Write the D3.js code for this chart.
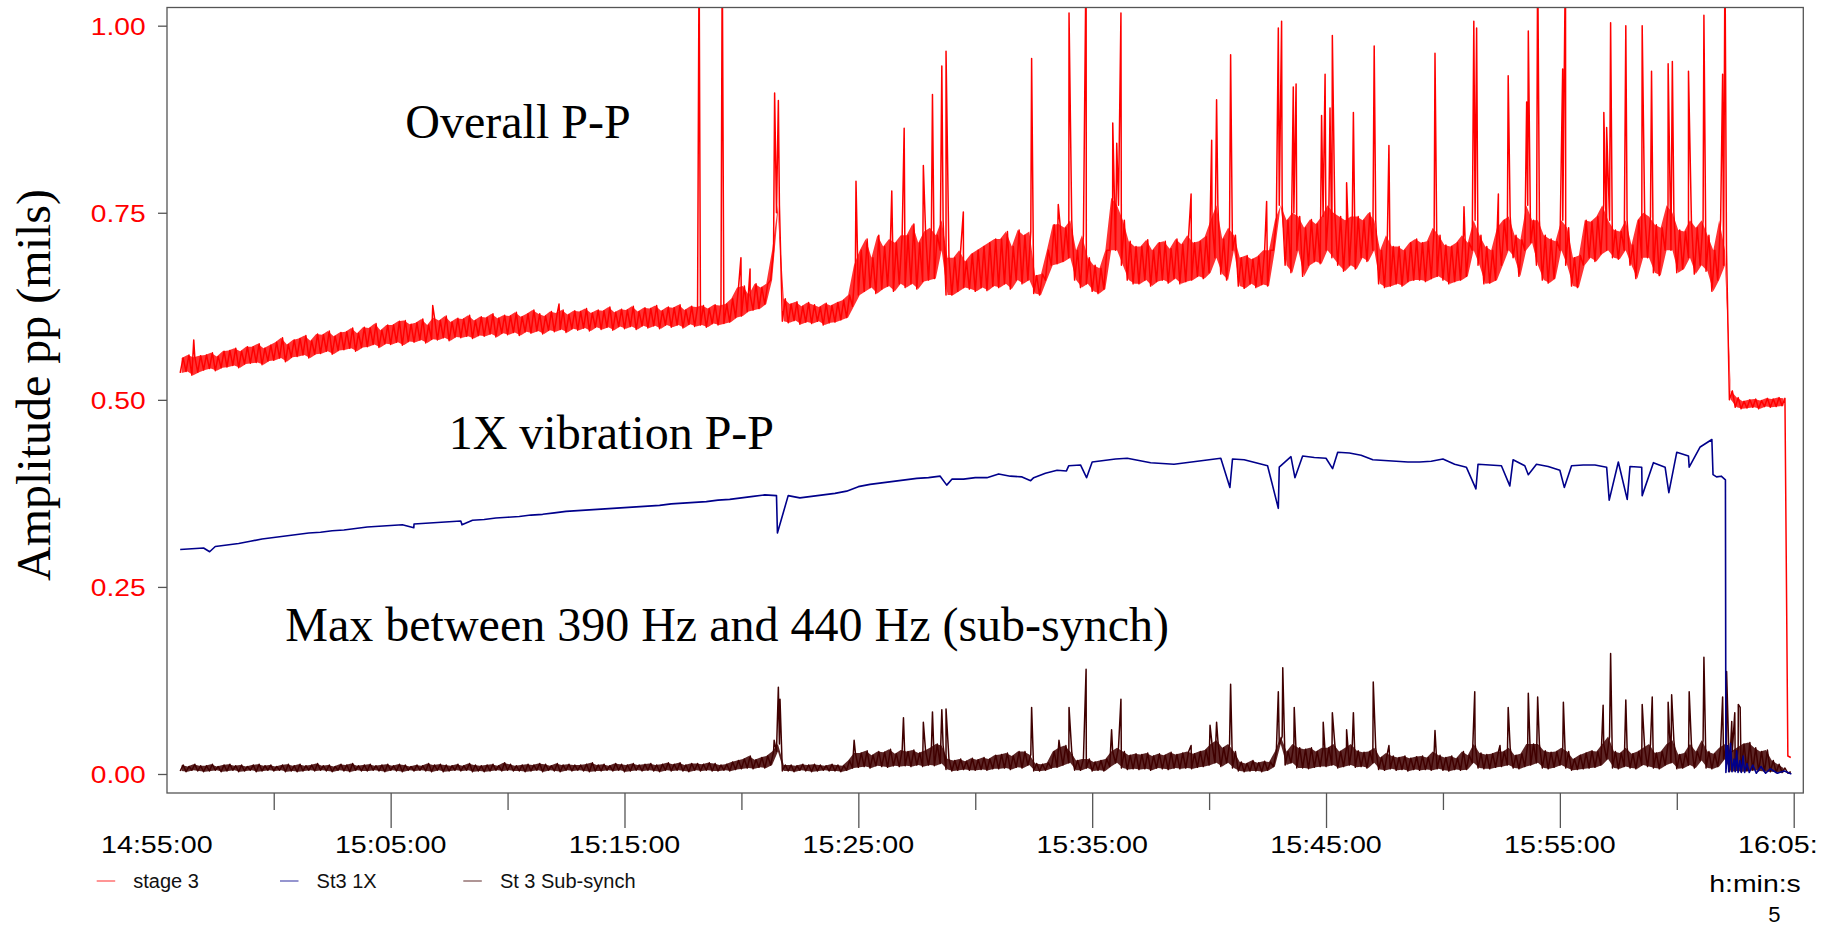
<!DOCTYPE html>
<html>
<head>
<meta charset="utf-8">
<script src="https://cdn.jsdelivr.net/npm/d3@7"></script>
<style>
  body { margin: 0; background: #fff; }
  svg { display: block; }
</style>
</head>
<body>
<div id="chart"></div>
<script>
// Times are minutes after 14:55:00. Red and sub-synch are read as a low / high
// noise band per 15 s bin plus their narrow spikes; 1X as one value per 30 s plus dips.
const binStart = 1.0;
const binStep = 0.25;

const redLo = [
  .536,.538,.533,.537, .540,.542,.539,.543, .544,.546,.543,.548, .549,.550,.547,.552, .553,.556,.551,.557,
  .558,.560,.556,.561, .562,.565,.561,.566, .567,.569,.565,.570, .571,.574,.570,.575, .574,.577,.573,.578,
  .577,.580,.576,.581, .580,.583,.579,.584, .583,.585,.582,.586, .585,.588,.584,.589, .587,.590,.586,.591,
  .589,.592,.588,.593, .591,.594,.590,.595, .593,.596,.592,.597, .594,.597,.593,.598, .595,.598,.594,.599,
  .596,.599,.595,.600, .597,.600,.596,.601, .598,.600,.597,.602, .600,.602,.604,.610, .612,.618,.620,.622,
  .628,.660,.750,.605, .603,.606,.601,.604, .602,.605,.600,.603, .604,.607,.610,.625, .640,.645,.650,.642,
  .648,.652,.645,.655, .650,.655,.648,.658, .660,.662,.700,.640, .640,.645,.650,.648, .645,.650,.646,.652,
  .650,.655,.648,.660, .655,.660,.642,.640, .660,.680,.682,.685, .690,.660,.650,.655, .645,.642,.648,.700,
  .700,.680,.660,.655, .655,.660,.652,.658, .660,.656,.662,.655, .658,.660,.665,.662, .670,.690,.668,.660,
  .700,.652,.649,.655, .650,.654,.652,.700, .760,.680,.670,.700, .665,.680,.685,.682, .700,.690,.680,.672,
  .680,.675,.690,.685, .700,.655,.650,.652, .655,.652,.658,.660, .660,.658,.662,.665, .660,.655,.658,.660,
  .665,.700,.680,.655, .656,.660,.680,.700, .690,.665,.700,.710, .680,.660,.656,.662, .700,.680,.652,.650,
  .680,.690,.685,.695, .700,.690,.688,.700, .680,.662,.690,.690, .670,.666,.700,.700, .670,.675,.690,.668,
  .680,.672,.645,.660, .680,.500,.490,.488, .489,.490,.488,.491, .490,.491,.492,.024
];
const redHi = [
  .556,.560,.557,.559, .560,.563,.558,.565, .566,.569,.565,.571, .571,.575,.569,.573, .577,.583,.574,.580,
  .582,.586,.579,.588, .587,.592,.585,.590, .591,.596,.589,.597, .596,.602,.593,.600, .600,.605,.606,.601,
  .603,.608,.600,.610, .606,.612,.604,.609, .608,.613,.606,.611, .610,.615,.609,.613, .612,.617,.611,.615,
  .620,.615,.612,.618, .616,.620,.614,.619, .618,.622,.616,.620, .619,.624,.617,.621, .620,.625,.618,.623,
  .622,.626,.619,.624, .623,.627,.620,.625, .624,.626,.622,.627, .626,.628,.635,.650, .652,.640,.655,.650,
  .655,.700,.760,.635, .628,.631,.625,.630, .627,.624,.629,.626, .630,.633,.640,.680, .700,.715,.690,.720,
  .705,.715,.710,.720, .720,.735,.710,.725, .730,.720,.740,.690, .690,.700,.685,.695, .700,.705,.710,.715,
  .715,.725,.705,.727, .720,.725,.666,.668, .700,.734,.735,.730, .740,.700,.720,.690, .680,.676,.700,.770,
  .760,.740,.712,.705, .705,.714,.700,.710, .712,.702,.715,.708, .720,.710,.712,.718, .740,.760,.715,.730,
  .720,.690,.693,.688, .692,.700,.700,.740, .760,.740,.750,.745, .730,.741,.735,.745, .760,.750,.745,.740,
  .745,.745,.740,.750, .740,.700,.720,.705, .705,.700,.710,.715, .710,.712,.730,.720, .707,.705,.710,.720,
  .710,.740,.720,.705, .700,.730,.740,.745, .720,.714,.760,.740, .740,.720,.715,.712, .740,.730,.690,.693,
  .740,.738,.745,.760, .740,.727,.725,.740, .707,.740,.750,.745, .734,.730,.760,.750, .727,.725,.740,.730,
  .740,.720,.700,.740, .700,.512,.503,.498, .500,.501,.499,.502, .501,.503,.502,.022
];
const redSpikes = [
  [1.58, .580], [11.8, .626], [17.2, .628], [23.19, 1.1], [24.18, 1.1], [24.98, .690],
  [25.37, .675], [26.42, .910], [26.58, .900], [29.9, .792], [31.43, .779], [31.96, .863],
  [32.78, .813], [33.17, .908], [33.57, .946], [33.75, .966], [34.49, .751], [37.41, .956],
  [38.55, .761], [39.01, 1.017], [39.74, 1.1], [40.88, .870], [41.05, .843], [41.23, 1.017],
  [44.23, .775], [45.11, .847], [45.32, .901], [45.92, .961], [47.46, .765], [47.96, .997],
  [48.10, 1.006], [48.6, .918], [48.72, .922], [49.81, .880], [49.96, .935], [50.17, .890],
  [50.27, .987], [50.88, .790], [51.17, .884], [52.06, .973], [52.69, .840], [54.66, .963],
  [55.9, .758], [56.32, 1.006], [56.44, .997], [57.37, .775], [57.79, .933], [58.58, .898],
  [58.65, .993], [59.05, 1.1], [60.12, .942], [60.24, 1.1], [61.88, .884], [62.0, .864],
  [62.17, 1.004], [62.82, 1.0], [63.52, 1.0], [63.92, .939], [64.63, .949], [64.81, .952],
  [65.5, .939], [66.16, 1.014], [66.96, .935], [67.06, 1.1]
];

const subLo = [
  .004,.003,.005,.004, .003,.004,.005,.003, .004,.005,.003,.004, .005,.003,.004,.005, .004,.005,.003,.004,
  .003,.004,.005,.004, .005,.004,.003,.005, .004,.003,.005,.004, .004,.005,.004,.003, .005,.004,.003,.005,
  .004,.005,.004,.003, .005,.003,.004,.005, .004,.005,.003,.004, .003,.004,.005,.004, .005,.004,.004,.003,
  .004,.005,.003,.005, .004,.003,.005,.004, .005,.004,.003,.004, .004,.005,.004,.005, .003,.004,.005,.004,
  .005,.004,.003,.005, .004,.005,.004,.003, .005,.004,.005,.004, .004,.005,.004,.006, .007,.008,.007,.009,
  .008,.012,.030,.004, .004,.003,.005,.004, .003,.004,.005,.004, .004,.003,.005,.008, .009,.010,.008,.011,
  .010,.009,.011,.010, .011,.010,.012,.010, .012,.011,.014,.006, .004,.005,.006,.005, .005,.006,.005,.007,
  .007,.008,.006,.009, .008,.012,.004,.004, .005,.008,.009,.012, .015,.005,.005,.008, .004,.005,.004,.010,
  .015,.008,.006,.007, .006,.007,.005,.008, .007,.006,.008,.007, .008,.007,.009,.010, .012,.015,.010,.015,
  .008,.004,.003,.004, .004,.003,.005,.010, .040,.012,.015,.008, .008,.007,.009,.010, .010,.012,.008,.010,
  .012,.009,.010,.008, .015,.006,.005,.007, .005,.006,.004,.006, .005,.006,.005,.007, .005,.004,.006,.005,
  .006,.015,.008,.007, .007,.009,.010,.012, .008,.007,.010,.012, .015,.008,.007,.009, .012,.008,.005,.006,
  .007,.008,.009,.012, .020,.008,.007,.010, .008,.007,.012,.010, .008,.007,.012,.015, .007,.008,.012,.008,
  .018,.008,.007,.010, .020,.003,.004,.003, .004,.005,.004,.003, .003,.002,.002,.001
];
const subHi = [
  .012,.010,.013,.011, .011,.013,.010,.012, .013,.011,.012,.010, .012,.013,.011,.012, .010,.012,.013,.011,
  .013,.011,.012,.014, .011,.012,.010,.013, .012,.014,.011,.012, .013,.011,.012,.013, .011,.013,.012,.010,
  .012,.011,.014,.012, .013,.012,.011,.013, .011,.014,.012,.011, .012,.013,.011,.015, .013,.011,.012,.013,
  .012,.014,.013,.011, .014,.012,.013,.012, .012,.013,.015,.012, .013,.011,.014,.013, .012,.014,.012,.013,
  .014,.012,.013,.015, .013,.015,.012,.014, .014,.013,.015,.014, .012,.013,.016,.018, .020,.024,.019,.022,
  .024,.030,.040,.012, .012,.011,.013,.012, .013,.012,.011,.013, .012,.011,.018,.028, .028,.031,.025,.030,
  .029,.033,.027,.032, .030,.032,.028,.031, .035,.040,.038,.020, .018,.020,.017,.021, .019,.022,.020,.025,
  .026,.028,.024,.030, .030,.026,.014,.013, .015,.030,.035,.038, .030,.018,.020,.020, .016,.018,.020,.030,
  .035,.030,.025,.027, .026,.028,.024,.027, .025,.029,.026,.028, .030,.027,.030,.032, .040,.045,.035,.040,
  .030,.016,.014,.018, .015,.017,.016,.030, .050,.030,.040,.035, .033,.035,.030,.035, .035,.040,.030,.035,
  .040,.031,.029,.030, .035,.022,.028,.024, .022,.024,.021,.023, .024,.022,.030,.025, .022,.024,.021,.030,
  .025,.040,.028,.026, .027,.030,.030,.035, .025,.027,.040,.040, .040,.031,.029,.030, .035,.030,.020,.025,
  .028,.031,.030,.040, .050,.030,.028,.035, .027,.030,.035,.040, .028,.030,.040,.045, .026,.028,.040,.030,
  .045,.030,.027,.035, .040,.030,.035,.040, .042,.035,.030,.032, .018,.013,.008,.003
];
const subSpikes = [
  [26.4, .045], [26.58, .116], [26.65, .100], [29.82, .045], [31.93, .075], [32.78, .069],
  [33.17, .083], [33.57, .086], [33.75, .087], [37.41, .089], [38.58, .045], [39.01, .089],
  [39.74, .140], [40.83, .059], [41.23, .100], [44.23, .038], [45.04, .065], [45.32, .069],
  [45.92, .120], [47.96, .110], [48.15, .142], [48.64, .089], [49.88, .069], [50.27, .082],
  [50.88, .059], [51.17, .082], [52.02, .123], [52.69, .038], [54.66, .058], [56.36, .110],
  [57.44, .038], [57.79, .089], [58.65, .108], [59.05, .103], [60.15, .096], [61.85, .092],
  [62.17, .161], [62.82, .099], [63.52, .093], [63.95, .103], [64.63, .096], [64.78, .106],
  [65.53, .110], [66.16, .156], [66.96, .103], [67.13, .137], [67.35, .070], [67.48, .082],
  [67.63, .093], [67.71, .089]
];

// 1X amplitude every 30 s from minute 1.0 to 66.5
const blueVals = [
  .300,.301,.302,.304,.306,.308,.311,.314,.316,.318,
  .320,.322,.323,.325,.326,.328,.330,.331,.332,.333,
  .334,.335,.336,.337,.338,.339,.340,.342,.343,.344,
  .346,.347,.349,.351,.352,.353,.354,.355,.356,.357,
  .358,.359,.361,.362,.363,.364,.366,.367,.369,.371,
  .373,.372,.372,.369,.371,.373,.375,.378,.384,.387,
  .389,.391,.393,.395,.396,.398,.394,.394,.396,.396,
  .401,.398,.397,.396,.402,.406,.412,.413,.417,.419,
  .421,.422,.419,.416,.415,.414,.416,.418,.420,.422,
  .421,.420,.416,.412,.410,.424,.425,.423,.422,.430,
  .429,.426,.420,.419,.418,.417,.417,.418,.421,.414,
  .410,.414,.413,.412,.420,.412,.414,.411,.406,.412,
  .413,.413,.410,.417,.411,.410,.416,.410,.430,.425,
  .437,.447
];
const blueDips = [
  [2.26, .297], [10.99, .329], [13.05, .333], [26.54, .322], [33.78, .386],
  [37.37, .392], [38.9, .405], [39.76, .396], [45.89, .383], [47.96, .355],
  [48.67, .396], [50.28, .408], [56.41, .381], [57.86, .385], [58.65, .400],
  [60.19, .383], [62.11, .366], [62.88, .367], [63.52, .372], [64.66, .376],
  [65.53, .410]
];
const blueTail = [
  [66.55, .400], [66.7, .397], [66.9, .398], [67.08, .393], [67.1, .002],
  [67.18, .038], [67.22, .003], [67.3, .041], [67.36, .003], [67.45, .020],
  [67.5, .003], [67.56, .031], [67.62, .002], [67.7, .018], [67.76, .002],
  [67.84, .024], [67.9, .002], [68.0, .014], [68.1, .002], [68.25, .012],
  [68.4, .001], [68.6, .010], [68.8, .001], [69.0, .007], [69.3, .001],
  [69.6, .004], [69.9, .000]
];

const yTicks = [0, 0.25, 0.5, 0.75, 1.0];
const xLabelMinutes = [0, 10, 20, 30, 40, 50, 60, 70];
const xMinorMinutes = [5, 15, 25, 35, 45, 55, 65];

const series = [
  { name: "stage 3", color: "#ff0000" },
  { name: "St3 1X", color: "#00008b" },
  { name: "St 3 Sub-synch", color: "#400000" },
];

const width = 1835;
const height = 925;
const plot = { left: 167, right: 1803.3, top: 7.5, bottom: 793 };
const axisFont = "'Liberation Sans', Arial, Helvetica, sans-serif";
const serifFont = "'Liberation Serif', 'Times New Roman', Times, serif";

const base = new Date(2011, 0, 1, 14, 55, 0);
const toDate = (m) => new Date(base.getTime() + m * 60000);

const x = d3
  .scaleTime()
  .domain([toDate(0.436), toDate(70.41)])
  .range([plot.left, plot.right]);

const y = d3
  .scaleLinear()
  .domain([-0.0254, 1.0243])
  .range([plot.bottom, plot.top]);

const svg = d3
  .select("#chart")
  .append("svg")
  .attr("width", width)
  .attr("height", height);

const defs = svg.append("defs");
defs
  .append("clipPath")
  .attr("id", "plot-clip")
  .append("rect")
  .attr("x", plot.left)
  .attr("y", plot.top)
  .attr("width", plot.right - plot.left)
  .attr("height", plot.bottom - plot.top);
defs
  .append("clipPath")
  .attr("id", "page-clip")
  .append("rect")
  .attr("x", 0)
  .attr("y", 0)
  .attr("width", 1817)
  .attr("height", height);

// noise band (lo/hi per bin) -> zig-zag trace, with the spikes slotted in by time
function trace(lo, hi, spikes) {
  const pts = [];
  lo.forEach((v, i) => {
    const t = binStart + i * binStep;
    pts.push([t, v]);
    pts.push([t + binStep / 2, hi[i]]);
  });
  return pts.concat(spikes).sort((a, b) => a[0] - b[0]);
}
function band(lo, hi) {
  return lo.slice(0, -1).map((v, i) => [binStart + i * binStep + binStep / 4, v, hi[i]]);
}

const redPts = trace(redLo, redHi, redSpikes);
const subPts = trace(subLo, subHi, subSpikes);
const bluePts = blueVals
  .map((v, i) => [binStart + i * 0.5, v])
  .concat(blueDips)
  .sort((a, b) => a[0] - b[0])
  .concat(blueTail);

const line = d3
  .line()
  .x((d) => x(toDate(d[0])))
  .y((d) => y(d[1]));

const area = d3
  .area()
  .x((d) => x(toDate(d[0])))
  .y0((d) => y(d[1]))
  .y1((d) => y(d[2]));

const traces = svg.append("g").attr("clip-path", "url(#plot-clip)");

// filled noise bands under the traces
[
  [band(redLo, redHi), series[0].color, 0.8],
  [band(subLo, subHi), series[2].color, 0.85],
].forEach(([rows, color, op]) => {
  traces
    .append("path")
    .datum(rows)
    .attr("fill", color)
    .attr("fill-opacity", op)
    .attr("stroke", "none")
    .attr("d", area);
});

[
  [redPts, series[0].color, 1.5],
  [subPts, series[2].color, 1.5],
  [bluePts, series[1].color, 1.6],
].forEach(([pts, color, w]) => {
  traces
    .append("path")
    .datum(pts)
    .attr("fill", "none")
    .attr("stroke", color)
    .attr("stroke-width", w)
    .attr("stroke-linejoin", "round")
    .attr("d", line);
});

// Frame
svg
  .append("rect")
  .attr("x", plot.left)
  .attr("y", plot.top)
  .attr("width", plot.right - plot.left)
  .attr("height", plot.bottom - plot.top)
  .attr("fill", "none")
  .attr("stroke", "#555")
  .attr("stroke-width", 1.3);

// Y axis, red labels
const yAxis = svg
  .append("g")
  .attr("transform", `translate(${plot.left},0)`)
  .call(d3.axisLeft(y).tickValues(yTicks).tickSize(9).tickFormat(d3.format(".2f")));
yAxis.select(".domain").remove();
yAxis.selectAll("line").attr("stroke", "#555").attr("stroke-width", 1.3);
yAxis
  .selectAll("text")
  .attr("x", 0)
  .attr("dy", null)
  .attr("transform", "translate(-21.3,9) scale(1.2,1)")
  .attr("fill", "#ff0000")
  .attr("font-family", axisFont)
  .attr("font-size", 23.5);

// X axis: long ticks every 10 min, short ones between
const xInside = (m) => m > 0.436 && m < 70.41;
const xMajor = svg
  .append("g")
  .attr("transform", `translate(0,${plot.bottom})`)
  .call(
    d3
      .axisBottom(x)
      .tickValues(xLabelMinutes.filter(xInside).map(toDate))
      .tickSize(35)
      .tickFormat("")
  );
const xMinor = svg
  .append("g")
  .attr("transform", `translate(0,${plot.bottom})`)
  .call(
    d3
      .axisBottom(x)
      .tickValues(xMinorMinutes.map(toDate))
      .tickSize(17)
      .tickFormat("")
  );
[xMajor, xMinor].forEach((g) => {
  g.select(".domain").remove();
  g.selectAll("line").attr("stroke", "#555").attr("stroke-width", 1.3);
});

const fmt = d3.timeFormat("%H:%M:%S");
svg
  .append("g")
  .attr("clip-path", "url(#page-clip)")
  .selectAll("text")
  .data(xLabelMinutes)
  .enter()
  .append("text")
  .attr("transform", (d) => `translate(${x(toDate(d))},852.7) scale(1.17,1)`)
  .attr("text-anchor", "middle")
  .attr("font-family", axisFont)
  .attr("font-size", 24.5)
  .attr("fill", "#000")
  .text((d) => fmt(toDate(d)));

svg
  .append("text")
  .attr("transform", "translate(1755,891.7) scale(1.16,1)")
  .attr("text-anchor", "middle")
  .attr("font-family", axisFont)
  .attr("font-size", 24.5)
  .text("h:min:s");

svg
  .append("text")
  .attr("x", 1768.3)
  .attr("y", 921.5)
  .attr("font-family", axisFont)
  .attr("font-size", 22)
  .text("5");

// Legend
const legend = svg
  .selectAll("g.legend")
  .data(series)
  .enter()
  .append("g")
  .attr("class", "legend")
  .attr("transform", (d, i) => `translate(${96.7 + i * 183.3},881)`);
legend
  .append("line")
  .attr("x1", 0)
  .attr("x2", 18.5)
  .attr("stroke", (d) => d.color)
  .attr("stroke-opacity", 0.7)
  .attr("stroke-width", 1.2);
legend
  .append("text")
  .attr("x", 36.6)
  .attr("y", 6.7)
  .attr("font-family", axisFont)
  .attr("font-size", 20)
  .attr("fill", "#111")
  .text((d) => d.name);

// Annotations
const notes = [
  { text: "Overall P-P", x: 405.3, y: 137.7 },
  { text: "1X vibration P-P", x: 448.7, y: 449.3 },
  { text: "Max between 390 Hz and 440 Hz (sub-synch)", x: 285.3, y: 640.8 },
];
svg
  .selectAll("text.note")
  .data(notes)
  .enter()
  .append("text")
  .attr("class", "note")
  .attr("x", (d) => d.x)
  .attr("y", (d) => d.y)
  .attr("font-family", serifFont)
  .attr("font-size", 48)
  .attr("fill", "#000")
  .text((d) => d.text);

svg
  .append("text")
  .attr("transform", "translate(49.5,385) rotate(-90)")
  .attr("text-anchor", "middle")
  .attr("font-family", serifFont)
  .attr("font-size", 48)
  .attr("fill", "#000")
  .text("Amplitude pp (mils)");
</script>
</body>
</html>
